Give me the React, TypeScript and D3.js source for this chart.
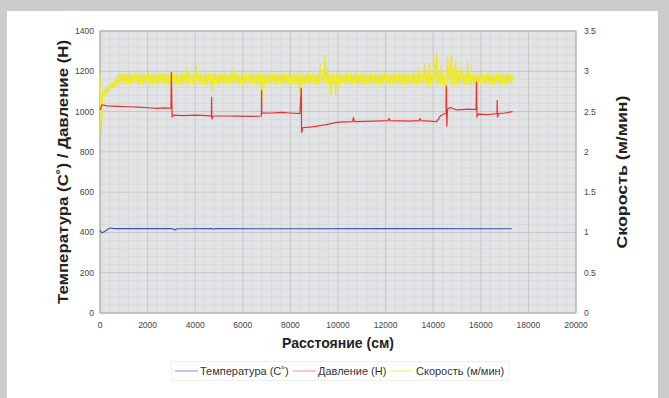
import React from "react";
import * as d3 from "d3";

// ---- data ----
const xTicks = [0, 2000, 4000, 6000, 8000, 10000, 12000, 14000, 16000, 18000, 20000];
const yLeftTicks = [0, 200, 400, 600, 800, 1000, 1200, 1400];
const yRightTicks = [0, 0.5, 1, 1.5, 2, 2.5, 3, 3.5];
const yRightLabels = ["0", "0.5", "1", "1.5", "2", "2.5", "3", "3.5"];

const seriesNames = ["Температура (C˚)", "Давление (Н)", "Скорость (м/мин)"];

const temperature: [number, number][] = [
  [0, 410], [80, 398], [200, 405], [350, 418], [450, 422], [600, 419], [3000, 419],
  [3150, 413], [3250, 418], [4700, 419], [4780, 416], [4850, 419], [8400, 418],
  [12000, 419], [17300, 418],
];

const pressure: [number, number][] = [
  [0, 1008], [80, 1033], [300, 1028], [800, 1026], [1200, 1024], [1600, 1022], [2000, 1019],
  [2400, 1016], [2700, 1018], [2980, 1016], [3000, 1198], [3030, 975], [3100, 982], [3500, 980],
  [4000, 982], [4500, 980], [4680, 978], [4690, 1074], [4700, 962], [4750, 978], [5200, 978],
  [5800, 977], [6400, 976], [6780, 978], [6790, 1107], [6800, 992], [7200, 993], [7600, 996],
  [8000, 993], [8400, 990], [8460, 1118], [8470, 895], [8520, 920], [9000, 925], [9500, 935],
  [10000, 948], [10600, 950], [10650, 968], [10700, 950], [11500, 953], [12100, 955],
  [12150, 965], [12200, 955], [13000, 953], [13400, 955], [13450, 965], [13500, 955],
  [14150, 950], [14300, 978], [14450, 988], [14540, 990], [14550, 1128], [14570, 925],
  [14600, 1010], [14700, 1020], [15000, 1008], [15500, 1012], [15800, 1010], [15820, 1148],
  [15840, 975], [15900, 987], [16300, 985], [16680, 990], [16690, 1057], [16700, 972],
  [16750, 990], [17000, 993], [17340, 1000],
];

// speed sampled every 50 cm from 0
const speedStep = 50;
const speed = [
  2.96, 2.22, 2.70, 2.78, 2.68, 2.80, 2.72, 2.81, 2.75, 2.84, 2.80, 2.86, 2.80, 2.92, 2.82, 2.96, 2.84, 2.98, 2.83, 2.97,
  2.84, 2.98, 2.83, 2.97, 2.85, 2.98, 2.83, 2.96, 2.84, 2.98, 2.86, 2.97, 2.83, 2.98, 2.84, 2.97, 2.83, 2.98, 2.85, 2.96,
  2.83, 2.98, 2.84, 2.97, 2.83, 2.98, 2.86, 2.96, 2.83, 2.98, 2.84, 2.97, 2.85, 2.98, 2.83, 2.97, 2.84, 2.98, 2.83, 2.96,
  2.84, 2.98, 2.83, 2.97, 2.85, 2.98, 2.83, 2.96, 2.84, 2.98, 2.83, 2.97, 2.84, 3.05, 2.83, 2.98, 2.85, 2.97, 2.83, 2.98,
  2.84, 3.06, 2.83, 2.97, 2.85, 2.98, 2.83, 2.96, 2.84, 2.98, 2.83, 2.97, 2.84, 2.98, 2.75, 2.97, 2.83, 2.98, 2.85, 2.96,
  2.83, 2.98, 2.84, 2.97, 2.83, 2.98, 2.86, 2.96, 2.83, 2.98, 2.84, 3.05, 2.83, 2.97, 2.85, 2.98, 2.83, 2.96, 2.84, 2.98,
  2.83, 2.97, 2.84, 2.98, 2.83, 2.96, 2.85, 2.98, 2.84, 2.97, 2.83, 2.98, 2.84, 2.97, 2.83, 2.98, 2.62, 2.97, 2.84, 2.98,
  2.83, 2.97, 2.85, 2.98, 2.83, 2.96, 2.84, 2.98, 2.83, 2.97, 2.84, 2.98, 2.86, 2.97, 2.83, 2.98, 2.84, 2.96, 2.83, 2.98,
  2.85, 2.97, 2.83, 2.98, 2.84, 2.96, 2.83, 2.98, 2.62, 2.97, 2.84, 2.98, 2.83, 2.97, 2.85, 2.98, 2.83, 2.96, 2.84, 2.98,
  2.83, 2.97, 2.84, 2.98, 2.83, 3.10, 2.85, 2.97, 2.83, 3.20, 2.84, 3.05, 2.83, 2.97, 2.70, 2.98, 2.84, 2.96, 2.71, 2.98,
  2.84, 2.97, 2.83, 2.98, 2.85, 2.96, 2.83, 2.98, 2.84, 2.97, 2.83, 2.98, 2.84, 2.97, 2.86, 2.98, 2.83, 2.96, 2.84, 2.98,
  2.83, 2.97, 2.84, 2.98, 2.83, 2.96, 2.85, 2.98, 2.83, 2.97, 2.84, 2.98, 2.83, 2.96, 2.84, 2.98, 2.83, 2.97, 2.85, 2.98,
  2.83, 2.96, 2.84, 2.98, 2.83, 2.97, 2.84, 2.98, 2.86, 2.96, 2.83, 2.98, 2.84, 2.97, 2.83, 2.98, 2.85, 2.97, 2.83, 2.98,
  2.84, 2.96, 2.83, 2.98, 2.84, 2.97, 2.83, 3.05, 2.85, 2.98, 2.83, 2.97, 2.84, 3.10, 2.83, 2.98, 2.80, 3.12, 2.84, 2.98,
  2.83, 3.15, 2.84, 3.23, 2.82, 2.98, 2.83, 3.08, 2.84, 2.97, 2.83, 2.54, 3.18, 2.98, 2.84, 3.23, 2.83, 3.05, 2.82, 3.14,
  2.84, 2.98, 2.83, 3.05, 2.85, 2.97, 2.83, 2.98, 2.84, 3.12, 2.83, 2.97, 2.84, 2.98, 2.83, 2.96, 2.77, 2.98, 2.84, 2.97,
  2.83, 2.98, 2.85, 2.96, 2.83, 2.98, 2.84, 2.97, 2.83, 2.98, 2.84, 2.96, 2.83, 2.98, 2.85, 2.97, 2.83, 2.98, 2.84, 2.96,
  2.83, 2.98, 2.84, 2.97, 2.85, 2.96, 2.84, 2.95,
];

const colors = ["#3a55a8", "#e8322f", "#ece82c"];
const legendColors = ["#9aa6d6", "#f3a3a0", "#f3ef86"];

export default function App() {
  const W = 669, H = 398;
  const left = 100, right = 576, top = 31, bottom = 313;
  const x = d3.scaleLinear().domain([0, 20000]).range([left, right]);
  const yL = d3.scaleLinear().domain([0, 1400]).range([bottom, top]);
  const yR = d3.scaleLinear().domain([0, 3.5]).range([bottom, top]);

  const minorX = d3.range(0, 20001, 400).filter((v) => v % 2000 !== 0);
  const minorY = d3.range(0, 1401, 40).filter((v) => v % 200 !== 0);

  const lineL = d3.line<[number, number]>().x((d) => x(d[0])).y((d) => yL(d[1]));
  const lineR = d3.line<number>().x((_, i) => x(i * speedStep)).y((d) => yR(d));

  const font = "Arial, 'Liberation Sans', Helvetica, sans-serif";

  const legendItems = [
    { x: 175, tx: 200 },
    { x: 293, tx: 318 },
    { x: 390, tx: 416 },
  ];

  return (
    <svg width={W} height={H} style={{ position: "absolute", left: 0, top: 0 }} fontFamily={font}>
      <rect x={0} y={0} width={W} height={H} fill="#cccccc" />
      <rect x={7} y={11} width={651} height={H - 11} fill="#ffffff" />

      {/* plot background */}
      <rect x={left} y={top} width={right - left} height={bottom - top} fill="#e2e3e5" />
      {minorX.map((v) => (
        <line key={"mx" + v} x1={x(v)} x2={x(v)} y1={top} y2={bottom} stroke="#d6d7d9" strokeWidth={0.8} />
      ))}
      {minorY.map((v) => (
        <line key={"my" + v} x1={left} x2={right} y1={yL(v)} y2={yL(v)} stroke="#d6d7d9" strokeWidth={0.8} />
      ))}
      {xTicks.map((v) => (
        <line key={"gx" + v} x1={x(v)} x2={x(v)} y1={top} y2={bottom} stroke="#c6c7c9" strokeWidth={1} />
      ))}
      {yLeftTicks.map((v) => (
        <line key={"gy" + v} x1={left} x2={right} y1={yL(v)} y2={yL(v)} stroke="#c6c7c9" strokeWidth={1} />
      ))}
      <rect x={left} y={top} width={right - left} height={bottom - top} fill="none" stroke="#a8a8a8" strokeWidth={1} />

      {/* series */}
      <path d={lineR(speed) || ""} fill="none" stroke={colors[2]} strokeWidth={1.3} />
      <path d={lineL(pressure) || ""} fill="none" stroke={colors[1]} strokeWidth={1.2} />
      <path d={lineL(temperature) || ""} fill="none" stroke={colors[0]} strokeWidth={1.1} />

      {/* tick labels */}
      {yLeftTicks.map((v) => (
        <text key={"yl" + v} x={94} y={yL(v) + 3} fontSize={8.5} fill="#444" textAnchor="end">{v}</text>
      ))}
      {yRightTicks.map((v, i) => (
        <text key={"yr" + v} x={584} y={yR(v) + 3} fontSize={8.5} fill="#444">{yRightLabels[i]}</text>
      ))}
      {xTicks.map((v) => (
        <text key={"xt" + v} x={x(v)} y={328} fontSize={8.5} fill="#444" textAnchor="middle">{v}</text>
      ))}

      {/* axis titles */}
      <text x={338} y={348} fontSize={14} fontWeight="bold" fill="#222" textAnchor="middle">Расстояние (см)</text>
      <text transform={`translate(68,${(top + bottom) / 2}) rotate(-90)`} fontSize={15} fontWeight="bold" fill="#222" textAnchor="middle"
        textLength={264} lengthAdjust="spacingAndGlyphs">
        Температура (C˚) / Давление (Н)
      </text>
      <text transform={`translate(627,${(top + bottom) / 2}) rotate(-90)`} fontSize={15} fontWeight="bold" fill="#222" textAnchor="middle"
        textLength={153} lengthAdjust="spacingAndGlyphs">
        Скорость (м/мин)
      </text>

      {/* legend */}
      <rect x={171.5} y={361.5} width={337} height={19} fill="#fff" stroke="#eeeeee" strokeWidth={1} />
      {legendItems.map((it, i) => (
        <g key={"lg" + i}>
          <line x1={it.x} x2={it.x + 23} y1={371} y2={371} stroke={legendColors[i]} strokeWidth={1.2} />
          <text x={it.tx} y={375} fontSize={11} fill="#333">{seriesNames[i]}</text>
        </g>
      ))}
    </svg>
  );
}
